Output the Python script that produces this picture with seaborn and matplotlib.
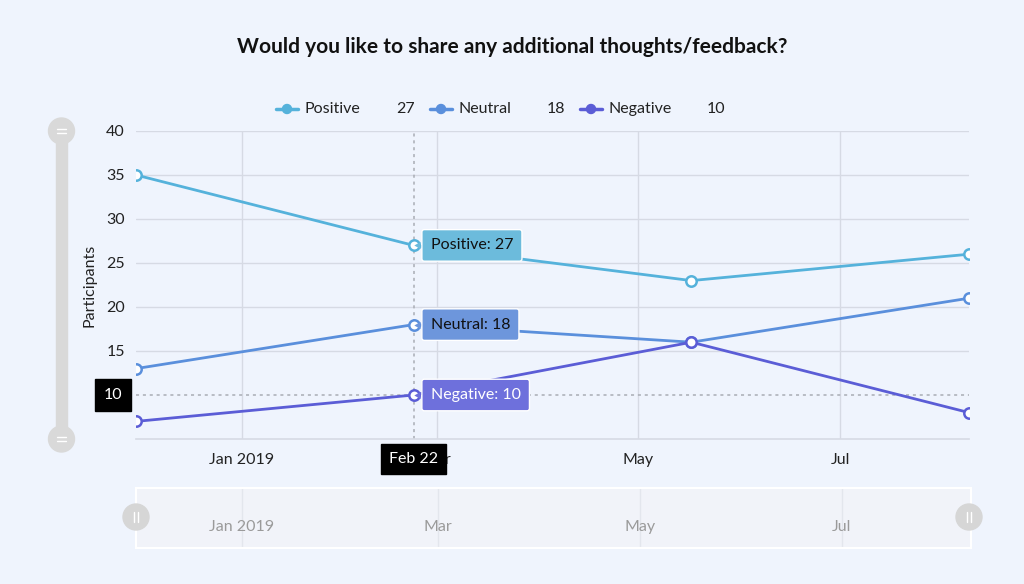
import numpy as np
import pandas as pd
import matplotlib
matplotlib.use("Agg")
import matplotlib.pyplot as plt
import matplotlib.dates as mdates
import matplotlib.transforms as mtransforms
from matplotlib.patches import Circle, Rectangle
import seaborn as sns

# ---------------- data ----------------
dates = ["2018-11-30", "2019-02-22", "2019-05-17", "2019-08-09"]
series_names = ["Positive", "Neutral", "Negative"]
positive = [35, 27, 23, 26]
neutral = [13, 18, 16, 21]
negative = [7, 10, 16, 8]
tick_months = [1, 3, 5, 7]
y_ticks = [15, 20, 25, 30, 35, 40]
crosshair_index = 1
crosshair_y = 10

colors = {"Positive": "#55b2db", "Neutral": "#5a8fdc", "Negative": "#5b5dd6"}
tip_fill = {"Positive": "#6cbbdc", "Neutral": "#6d96dc", "Negative": "#6e70dc"}
tip_text = {"Positive": "#111111", "Neutral": "#111111", "Negative": "#ffffff"}

values = {"Positive": positive, "Neutral": neutral, "Negative": negative}
df = pd.DataFrame({
    "date": np.tile(pd.to_datetime(dates), 3),
    "series": np.repeat(series_names, len(dates)),
    "value": positive + neutral + negative,
})

# ---------------- style ----------------
BG = "#eff4fd"
FS = 11.5
sns.set_theme(style="white")
plt.rcParams["font.family"] = ["Lato", "DejaVu Sans"]

fig = plt.figure(figsize=(10.24, 5.84), dpi=100, facecolor=BG)
W, H = 1024, 584
L, R, T, B = 136, 969, 131, 439
ax = fig.add_axes([L / W, 1 - B / H, (R - L) / W, (B - T) / H])
ax.set_facecolor(BG)

for name in series_names:
    sub = df[df["series"] == name]
    sns.lineplot(data=sub, x="date", y="value", ax=ax, color=colors[name],
                 linewidth=2.0, marker="o", markersize=7.5,
                 markerfacecolor="white", markeredgecolor=colors[name],
                 markeredgewidth=1.8, legend=False, zorder=3)

d = pd.to_datetime(dates)
dn = mdates.date2num(d)
ax.set_xlim(dn[0], dn[-1])
ax.set_ylim(5, 40)
ax.set_yticks(y_ticks)


def fmt(v, p):
    dt = mdates.num2date(v)
    return dt.strftime("%b %Y") if dt.month == 1 else dt.strftime("%b")


ax.xaxis.set_major_locator(mdates.MonthLocator(bymonth=tick_months))
ax.xaxis.set_major_formatter(plt.FuncFormatter(fmt))
ax.grid(True, color="#d6dae4", linewidth=1.0)
ax.tick_params(axis="both", length=0, labelsize=FS, colors="#222222")
ax.tick_params(axis="x", pad=10)
ax.tick_params(axis="y", pad=8)
for s in ["top", "right", "left"]:
    ax.spines[s].set_visible(False)
ax.spines["bottom"].set_color("#d6dae4")
ax.spines["bottom"].set_linewidth(1.2)
ax.set_xlabel("")
ax.set_ylabel("Participants", fontsize=FS, color="#222222")
ax.yaxis.set_label_coords((96 - L) / (R - L), 0.5)

# crosshair
cx = dn[crosshair_index]
ax.axvline(cx, color="#a9adb5", linewidth=1.1, linestyle=(0, (2, 2.5)), zorder=2)
ax.axhline(crosshair_y, color="#a9adb5", linewidth=1.1, linestyle=(0, (2, 2.5)), zorder=2)

ax.annotate(str(crosshair_y), xy=(0, crosshair_y), xycoords=ax.get_yaxis_transform(),
            xytext=(-23, 0), textcoords="offset pixels", ha="center", va="center",
            fontsize=FS, color="white", zorder=8,
            bbox=dict(boxstyle="square,pad=0.55", fc="black", ec="black"), annotation_clip=False)
ax.annotate(d[crosshair_index].strftime("%b %d").replace(" 0", " "), xy=(cx, 0),
            xycoords=ax.get_xaxis_transform(),
            xytext=(0, -20), textcoords="offset pixels", ha="center", va="center",
            fontsize=FS, color="white", zorder=8,
            bbox=dict(boxstyle="square,pad=0.5", fc="black", ec="black"), annotation_clip=False)

# tooltips
for name in series_names:
    v = values[name][crosshair_index]
    ax.annotate(f"{name}: {v}", xy=(cx, v), xycoords="data",
                xytext=(17, 0), textcoords="offset pixels", ha="left", va="center",
                fontsize=FS, color=tip_text[name], zorder=6,
                bbox=dict(boxstyle="round,pad=0.55,rounding_size=0.15", fc=tip_fill[name],
                          ec="white", lw=1.0))
    tr = mtransforms.offset_copy(ax.transData, fig=fig, x=4, y=0, units="dots")
    ax.plot([cx], [v], marker=(3, 0, 90), markersize=6, color=tip_fill[name],
            transform=tr, zorder=6, clip_on=False, markeredgewidth=0)

# ---------------- overlay decorations ----------------
ov = fig.add_axes([0, 0, 1, 1], zorder=10)
ov.set_xlim(0, W)
ov.set_ylim(H, 0)
ov.axis("off")
ov.patch.set_alpha(0)

ov.text(512, 47, "Would you like to share any additional thoughts/feedback?",
        ha="center", va="center", fontsize=15, fontweight="bold", color="#111111")

# legend
leg_x = [276, 430, 580]
val_x = [396, 547, 707]
for name, lx, vx in zip(series_names, leg_x, val_x):
    ov.plot([lx, lx + 22], [109, 109], color=colors[name], linewidth=2.5)
    ov.add_patch(Circle((lx + 11, 109), 4.5, color=colors[name]))
    ov.text(lx + 28, 109, name, ha="left", va="center", fontsize=FS, color="#222222")
    ov.text(vx, 109, str(values[name][crosshair_index]), ha="left", va="center",
            fontsize=FS, color="#222222")

# left scrollbar
SB = "#d9d9d9"
ov.add_patch(Rectangle((56, 131), 11, 308, color=SB, zorder=1))
for cy in (131, 439):
    ov.add_patch(Circle((61.5, cy), 13, color=SB, zorder=2))
    ov.plot([57, 66], [cy - 2, cy - 2], color="white", lw=1, zorder=3)
    ov.plot([57, 66], [cy + 2, cy + 2], color="white", lw=1, zorder=3)

# bottom preview
pv = fig.add_axes([L / W, 1 - 548 / H, (R - L + 2) / W, 60 / H], zorder=5)
pv.set_facecolor("#f1f3f9")
pv.set_xlim(dn[0], dn[-1])
pv.set_ylim(0, 1)
pv.set_yticks([])
pv.xaxis.set_major_locator(mdates.MonthLocator(bymonth=tick_months))
pv.xaxis.set_major_formatter(plt.FuncFormatter(fmt))
pv.tick_params(axis="x", direction="in", length=0, pad=-20, labelsize=FS, colors="#9a9a9a")
pv.grid(True, axis="x", color="#e3e6ed", linewidth=1)
for s in pv.spines.values():
    s.set_color("white")
    s.set_linewidth(1.5)

for hx in (136, 969):
    ov.add_patch(Circle((hx, 517), 13, color="#d6d6d6", zorder=2))
    ov.plot([hx - 2, hx - 2], [512, 522], color="white", lw=1, zorder=3)
    ov.plot([hx + 2, hx + 2], [512, 522], color="white", lw=1, zorder=3)

fig.savefig("out.png", dpi=100, facecolor=BG)
